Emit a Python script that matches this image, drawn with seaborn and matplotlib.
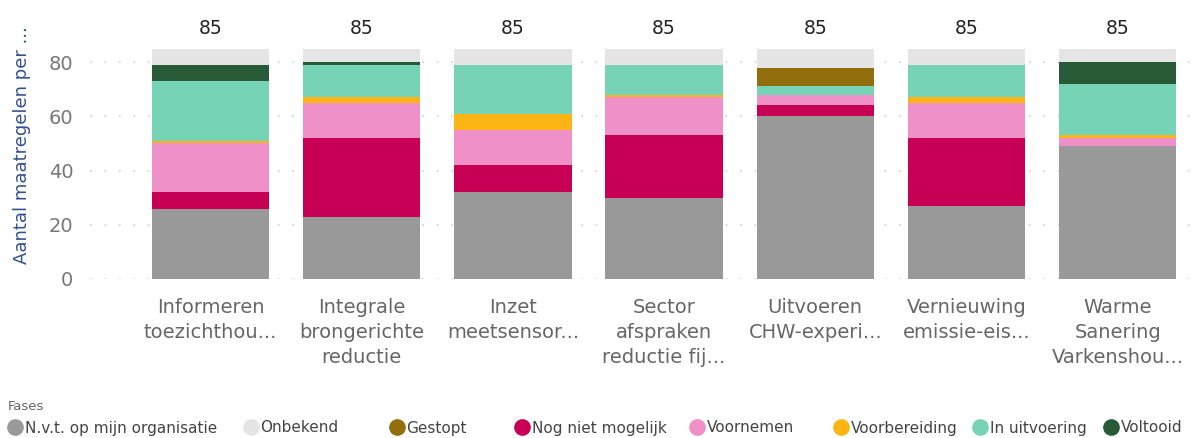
import numpy as np
import pandas as pd
import matplotlib
matplotlib.use("Agg")
import matplotlib.pyplot as plt
import seaborn as sns
from matplotlib.lines import Line2D

# ---- data ----
categories = [
    "Informeren\ntoezichthou...",
    "Integrale\nbrongerichte\nreductie",
    "Inzet\nmeetsensor...",
    "Sector\nafspraken\nreductie fij...",
    "Uitvoeren\nCHW-experi...",
    "Vernieuwing\nemissie-eis...",
    "Warme\nSanering\nVarkenshou...",
]
nvt           = [26, 23, 32, 30, 60, 27, 49]
nog_niet      = [6, 29, 10, 23, 4, 25, 0]
voornemen     = [18, 13, 13, 14, 4, 13, 3]
voorbereiding = [1, 2, 6, 1, 0, 2, 1]
in_uitvoering = [22, 12, 18, 11, 3, 12, 19]
voltooid      = [6, 1, 0, 0, 0, 0, 8]
gestopt       = [0, 0, 0, 0, 7, 0, 0]
onbekend      = [6, 5, 6, 6, 7, 6, 5]

# stacking order (bottom -> top)
stack_names = ["N.v.t. op mijn organisatie", "Nog niet mogelijk", "Voornemen",
               "Voorbereiding", "In uitvoering", "Voltooid", "Gestopt", "Onbekend"]
stack_values = [nvt, nog_niet, voornemen, voorbereiding, in_uitvoering,
                voltooid, gestopt, onbekend]
legend_order = ["N.v.t. op mijn organisatie", "Onbekend", "Gestopt", "Nog niet mogelijk",
                "Voornemen", "Voorbereiding", "In uitvoering", "Voltooid"]
colors = {
    "N.v.t. op mijn organisatie": "#999999",
    "Onbekend": "#E5E5E5",
    "Gestopt": "#936E0D",
    "Nog niet mogelijk": "#C70055",
    "Voornemen": "#EF90C9",
    "Voorbereiding": "#FDB515",
    "In uitvoering": "#76D3B6",
    "Voltooid": "#275A36",
}

sns.set_theme(style="white")
plt.rcParams["font.family"] = ["DejaVu Sans"]

fig = plt.figure(figsize=(11.99, 4.38), dpi=100)
ax = fig.add_axes([90 / 1199, 1 - 279 / 438, (1197 - 90) / 1199, (279 - 16) / 438])

cum = np.cumsum(np.array(stack_values), axis=0)
# draw from top of stack downwards so lower segments overlay
for i in range(len(stack_names) - 1, -1, -1):
    df = pd.DataFrame({"cat": categories, "val": cum[i]})
    sns.barplot(data=df, x="cat", y="val", color=colors[stack_names[i]],
                width=0.777, saturation=1, ax=ax, errorbar=None, linewidth=0,
                order=categories)

totals = cum[-1]
for i, t in enumerate(totals):
    ax.annotate(f"{int(t)}", (i, t), xytext=(0, 14.3), textcoords="offset points",
                ha="center", va="center", fontsize=13.5, color="#252423")

ax.set_xlim(-0.797, 6.525)
ax.set_ylim(0, 97)
ax.set_yticks([0, 20, 40, 60, 80])
for y in [0, 20, 40, 60, 80]:
    ax.axhline(y, color="#CDD7E4", linestyle=(0, (1, 7)), linewidth=1.3, zorder=0)
for s in ax.spines.values():
    s.set_visible(False)
ax.tick_params(axis="y", length=0, pad=12, labelsize=14, labelcolor="#777777")
ax.tick_params(axis="x", length=0, pad=14, labelsize=14, labelcolor="#666666")
for lab in ax.get_xticklabels():
    lab.set_linespacing(1.38)
    lab.set_verticalalignment("top")
ax.set_xlabel("")
ax.set_ylabel("")
ax.set_facecolor("white")

fig.text(22 / 1199, 1 - 145 / 438, "Aantal maatregelen per ...", rotation=90,
         ha="center", va="center", fontsize=13, color="#34508F")

# legend
fig.text(8 / 1199, 1 - 406 / 438, "Fases", ha="left", va="center",
         fontsize=9.5, color="#666666")
legend_x = [7, 243, 389, 514, 689, 833, 972, 1103]
for name, x in zip(legend_order, legend_x):
    h = Line2D([], [], marker="o", linestyle="", markersize=11,
               markerfacecolor=colors[name], markeredgecolor=colors[name])
    fig.legend(handles=[h], labels=[name], loc="center left",
               bbox_to_anchor=(x / 1199, 1 - 428 / 438), frameon=False,
               handletextpad=0.15, borderpad=0, borderaxespad=0, handlelength=1.0,
               prop={"size": 11}, labelcolor="#444444")

fig.savefig("out.png", dpi=100, facecolor="white")
